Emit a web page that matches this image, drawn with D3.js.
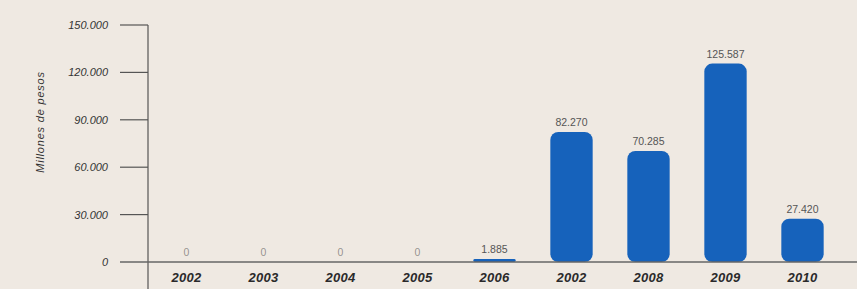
<!DOCTYPE html>
<html lang="es">
<head>
<meta charset="UTF-8">
<title>Millones de pesos</title>
<script src="https://d3js.org/d3.v7.min.js"></script>
<style>
    body { margin: 0; background: #efe9e2; }
    svg { display: block; }
    .tick-label { font-family: 'Liberation Sans', Arial, sans-serif; font-style: italic; font-size: 11px; fill: #333; }
    .axis-title { font-family: 'Liberation Sans', Arial, sans-serif; font-style: italic; font-size: 11px; letter-spacing: 0.8px; fill: #333; }
    .year-label { font-family: 'Liberation Sans', Arial, sans-serif; font-style: italic; font-weight: bold; font-size: 13px; letter-spacing: 0.3px; fill: #2a2a2a; }
    .value-label { font-family: 'Liberation Sans', Arial, sans-serif; font-size: 10.5px; fill: #555; }
</style>
</head>
<body>
<svg id="chart" width="857" height="289"></svg>
<script>
// data
const years = ["2002", "2003", "2004", "2005", "2006", "2002", "2008", "2009", "2010"];
const values = [0, 0, 0, 0, 1885, 82270, 70285, 125587, 27420];
const yTicks = [0, 30000, 60000, 90000, 120000, 150000];

const svg = d3.select("#chart");
const fmt = d3.formatLocale({ decimal: ",", thousands: ".", grouping: [3], currency: ["$", ""] }).format(",d");

const x = d3.scaleBand()
    .domain(d3.range(years.length))
    .range([148, 841])
    .paddingInner(0.45)
    .paddingOuter(0.225);

const y = d3.scaleLinear()
    .domain([0, 150000])
    .range([262, 25]);

// y axis: vertical line + tick marks
svg.append("line")
    .attr("x1", 148).attr("x2", 148)
    .attr("y1", y(150000)).attr("y2", 289)
    .attr("stroke", "#555").attr("stroke-width", 1.2);

svg.selectAll(".ytick")
    .data(yTicks.filter(d => d > 0))
    .enter().append("line")
    .attr("x1", 120).attr("x2", 148)
    .attr("y1", d => y(d)).attr("y2", d => y(d))
    .attr("stroke", "#555").attr("stroke-width", 1.2);

svg.selectAll(".tick-label")
    .data(yTicks)
    .enter().append("text")
    .attr("class", "tick-label")
    .attr("x", 108)
    .attr("y", d => y(d) + 4)
    .attr("text-anchor", "end")
    .text(d => fmt(d));

svg.append("text")
    .attr("class", "axis-title")
    .attr("transform", "translate(44,122) rotate(-90)")
    .attr("text-anchor", "middle")
    .text("Millones de pesos");

// bars
svg.selectAll(".bar")
    .data(values)
    .enter().append("rect")
    .attr("class", "bar")
    .attr("x", (d, i) => x(i))
    .attr("width", x.bandwidth())
    .attr("y", d => y(d))
    .attr("height", d => y(0) - y(d))
    .attr("rx", d => Math.min(8, (y(0) - y(d)) / 2))
    .attr("fill", "#1662bb");

// baseline
svg.append("line")
    .attr("x1", 120).attr("x2", 857)
    .attr("y1", y(0)).attr("y2", y(0))
    .attr("stroke", "#666").attr("stroke-width", 1.5);

svg.selectAll(".value-label")
    .data(values)
    .enter().append("text")
    .attr("class", "value-label")
    .attr("x", (d, i) => x(i) + x.bandwidth() / 2)
    .attr("y", d => y(d) - 6)
    .attr("text-anchor", "middle")
    .attr("fill-opacity", d => d === 0 ? 0.6 : 1)
    .text(d => fmt(d));

svg.selectAll(".year-label")
    .data(years)
    .enter().append("text")
    .attr("class", "year-label")
    .attr("x", (d, i) => x(i) + x.bandwidth() / 2)
    .attr("y", 282)
    .attr("text-anchor", "middle")
    .text(d => d);
</script>
</body>
</html>
